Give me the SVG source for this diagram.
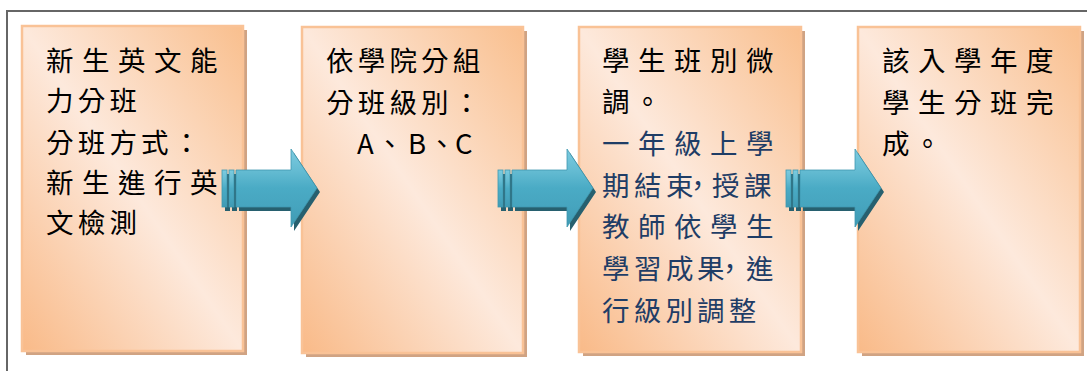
<svg xmlns="http://www.w3.org/2000/svg" xmlns:xlink="http://www.w3.org/1999/xlink" width="1087" height="371" viewBox="0 0 1087 371">
<defs>
<linearGradient id="peach" x1="1" y1="0" x2="0" y2="1">
<stop offset="0" stop-color="#f9bf8e"/>
<stop offset="0.5" stop-color="#fde9dc"/>
<stop offset="1" stop-color="#f9ba88"/>
</linearGradient>
<linearGradient id="teal" x1="0" y1="0" x2="0" y2="1">
<stop offset="0" stop-color="#7ccbe0"/>
<stop offset="0.3" stop-color="#62bad1"/>
<stop offset="0.5" stop-color="#4aabc5"/>
<stop offset="0.75" stop-color="#46a4be"/>
<stop offset="1" stop-color="#3f9ab3"/>
</linearGradient>
<g id="arrow">
<g fill="#27606f" transform="translate(3,4)">
<path d="M14,170 H69 V149 L95,188 L69,227 V207 H14 Z"/>
<rect x="0" y="170" width="5" height="37"/>
<rect x="7" y="170" width="5" height="37"/>
</g>
<g fill="url(#teal)" stroke="#3f98b0" stroke-width="0.8">
<path d="M14,170 H69 V149 L95,188 L69,227 V207 H14 Z"/>
<rect x="0" y="170" width="5" height="37"/>
<rect x="7" y="170" width="5" height="37"/>
</g>
</g>
</defs>
<style>
.box{fill:url(#peach);stroke:#f9c296;stroke-width:2.5}
.shadow{fill:#d0a383}
.t{font-family:"Noto Sans CJK TC","Noto Sans CJK SC",sans-serif;font-size:27.5px;fill:#000}
.b{fill:#1f3d66}
</style>
<rect width="1087" height="371" fill="#ffffff"/>
<path d="M7,371 V11 H1087" fill="none" stroke="#666666" stroke-width="2"/>

<g id="node1">
<rect class="shadow" x="26" y="30" width="221" height="325"/>
<rect class="box" x="22" y="26" width="221" height="325"/>
<text class="t" x="46 82 118 154 190" y="70.5">新生英文能</text>
<text class="t" x="46 77.7 109.4" y="110.5">力分班</text>
<text class="t" x="46 77.7 109.4 141.1 172.8" y="152.5">分班方式：</text>
<text class="t" x="46 82 118 154 190" y="192.5">新生進行英</text>
<text class="t" x="46 77.7 109.4" y="232.5">文檢測</text>
</g>

<g id="node2">
<rect class="shadow" x="306" y="31" width="221" height="326"/>
<rect class="box" x="302" y="27" width="221" height="326"/>
<text class="t" x="326 357.7 389.4 421.1 452.8" y="70.5">依學院分組</text>
<text class="t" x="326 357.7 389.4 421.1 452.8" y="112.5">分班級別：</text>
<text class="t" x="357 376 408 428 455" y="153.5">A、B、C</text>
</g>

<g id="node3">
<rect class="shadow" x="583" y="31" width="222" height="325"/>
<rect class="box" x="579" y="27" width="222" height="325"/>
<text class="t" x="602 638 674 710 746" y="70.5">學生班別微</text>
<text class="t" x="602 633.7" y="112">調。</text>
<text class="t b" x="602 638 674 710 746" y="153.5">一年級上學</text>
<text class="t b" x="602 634 666 684 712 744" y="195.5">期結束，授課</text>
<text class="t b" x="602 638 674 710 746" y="237">教師依學生</text>
<text class="t b" x="602 634 666 697 716 746" y="278.5">學習成果，進</text>
<text class="t b" x="602 633.7 665.4 697.1 728.8" y="320.5">行級別調整</text>
</g>

<g id="node4">
<rect class="shadow" x="862" y="31" width="222" height="325"/>
<rect class="box" x="858" y="27" width="222" height="325"/>
<text class="t" x="882 918 954 990 1026" y="70.5">該入學年度</text>
<text class="t" x="882 918 954 990 1026" y="112.5">學生分班完</text>
<text class="t" x="882 913.7" y="153.5">成。</text>
</g>

<g id="connectors">
<use xlink:href="#arrow" href="#arrow" transform="translate(222,0)"/>
<use xlink:href="#arrow" href="#arrow" transform="translate(498,0)"/>
<use xlink:href="#arrow" href="#arrow" transform="translate(786,0)"/>
</g>
</svg>
